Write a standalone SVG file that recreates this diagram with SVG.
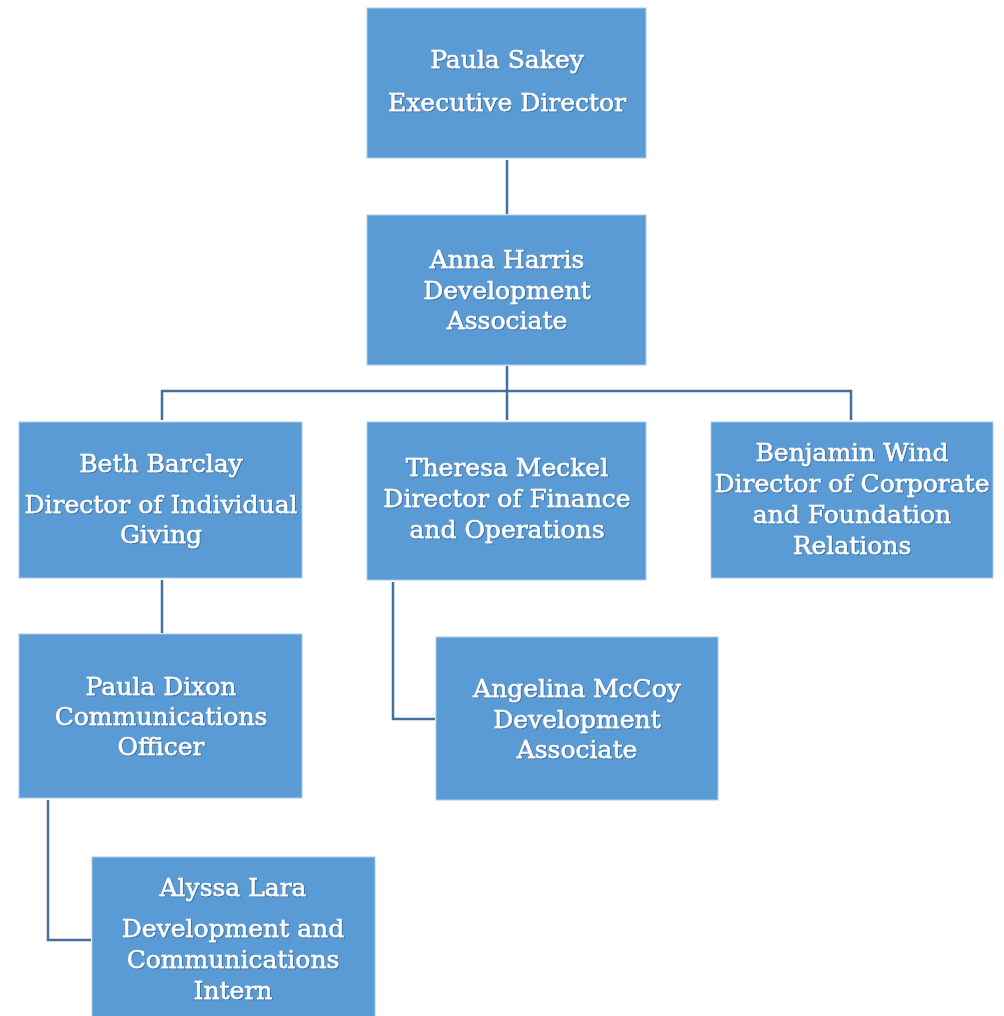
<svg xmlns="http://www.w3.org/2000/svg" width="1004" height="1016" viewBox="0 0 1004 1016">
<defs>
<filter id="sh" x="-5%" y="-20%" width="110%" height="140%">
<feDropShadow dx="0.8" dy="0.8" stdDeviation="0.6" flood-color="#1F3F66" flood-opacity="0.6"/>
</filter>
</defs>
<style>
.box{fill:#5B9BD5;stroke:#A9CBEA;stroke-width:1}
.t{font-family:"DejaVu Serif","Liberation Serif",serif;font-size:25px;fill:#ffffff;stroke:#ffffff;stroke-width:0.5;text-anchor:middle}
.c{fill:none;stroke:#41719C;stroke-width:2.5}
.txt{filter:url(#sh)}
</style>
<rect width="1004" height="1016" fill="#ffffff"/>
<g id="connectors">
<path class="c" d="M507,160 V214"/>
<path class="c" d="M507,366 V391 M162,420 V391 H851 V420 M507,391 V420"/>
<path class="c" d="M162,580 V633"/>
<path class="c" d="M393,582 V719 H435"/>
<path class="c" d="M48,800 V940 H91"/>
</g>
<g id="paula-sakey">
<rect class="box" x="367" y="8" width="279" height="150"/>
<g class="txt">
<text class="t" x="507" y="68">Paula Sakey</text>
<text class="t" x="507" y="111">Executive Director</text>
</g>
</g>
<g id="anna-harris">
<rect class="box" x="367" y="215" width="279" height="150"/>
<g class="txt">
<text class="t" x="507" y="268">Anna Harris</text>
<text class="t" x="507" y="299">Development</text>
<text class="t" x="507" y="329">Associate</text>
</g>
</g>
<g id="beth-barclay">
<rect class="box" x="19" y="422" width="283" height="156"/>
<g class="txt">
<text class="t" x="161" y="472">Beth Barclay</text>
<text class="t" x="161" y="513">Director of Individual</text>
<text class="t" x="161" y="543">Giving</text>
</g>
</g>
<g id="theresa-meckel">
<rect class="box" x="367" y="422" width="279" height="158"/>
<g class="txt">
<text class="t" x="507" y="476">Theresa Meckel</text>
<text class="t" x="507" y="507">Director of Finance</text>
<text class="t" x="507" y="538">and Operations</text>
</g>
</g>
<g id="benjamin-wind">
<rect class="box" x="711" y="422" width="282" height="156"/>
<g class="txt">
<text class="t" x="852" y="461">Benjamin Wind</text>
<text class="t" x="852" y="492">Director of Corporate</text>
<text class="t" x="852" y="523">and Foundation</text>
<text class="t" x="852" y="554">Relations</text>
</g>
</g>
<g id="paula-dixon">
<rect class="box" x="19" y="634" width="283" height="164"/>
<g class="txt">
<text class="t" x="161" y="695">Paula Dixon</text>
<text class="t" x="161" y="725">Communications</text>
<text class="t" x="161" y="755">Officer</text>
</g>
</g>
<g id="angelina-mccoy">
<rect class="box" x="436" y="637" width="282" height="163"/>
<g class="txt">
<text class="t" x="577" y="697">Angelina McCoy</text>
<text class="t" x="577" y="728">Development</text>
<text class="t" x="577" y="758">Associate</text>
</g>
</g>
<g id="alyssa-lara">
<rect class="box" x="92" y="857" width="283" height="165"/>
<g class="txt">
<text class="t" x="233" y="896">Alyssa Lara</text>
<text class="t" x="233" y="937">Development and</text>
<text class="t" x="233" y="968">Communications</text>
<text class="t" x="233" y="999">Intern</text>
</g>
</g>
</svg>
